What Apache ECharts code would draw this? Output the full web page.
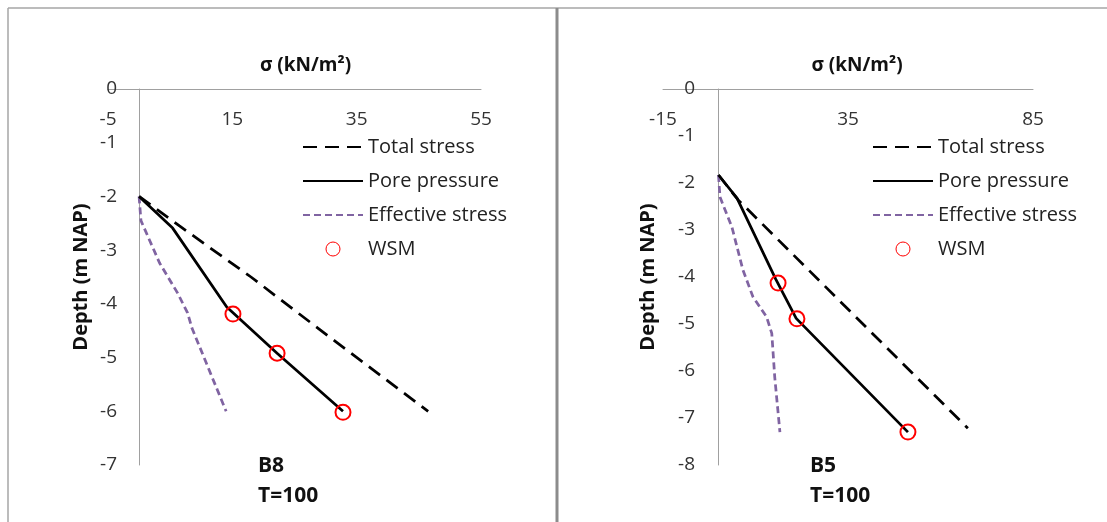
<!DOCTYPE html>
<html>
<head>
<meta charset="utf-8">
<script src="https://cdn.jsdelivr.net/npm/echarts@6/dist/echarts.min.js"></script>
<style>
html,body{margin:0;padding:0;background:#fff;}
#chart{width:1107px;height:522px;}
</style>
</head>
<body>
<div id="chart"></div>
<script>
// ---------- data ----------
const SERIES_NAMES = ['Total stress', 'Pore pressure', 'Effective stress', 'WSM'];
const X_TITLE = 'σ (kN/m²)';
const Y_TITLE = 'Depth (m NAP)';
const PANEL_LABELS = [['B8', 'T=100'], ['B5', 'T=100']];

// B8 panel
const B8_TOTAL_SIGMA = [0, 6.5, 18, 31, 46.5];
const B8_TOTAL_DEPTH = [-2, -2.55, -3.5, -4.65, -6];
const B8_PORE_SIGMA = [0, 5.4, 14.1, 22.2, 32.8];
const B8_PORE_DEPTH = [-2, -2.59, -4.06, -4.92, -6.0];
const B8_EFF_SIGMA = [0, 0.3, 3.3, 6.2, 7.8, 8.5, 14];
const B8_EFF_DEPTH = [-2, -2.45, -3.24, -3.8, -4.17, -4.45, -6];
const B8_WSM_SIGMA = [15.1, 22.2, 32.8];
const B8_WSM_DEPTH = [-4.19, -4.92, -6.02];

// B5 panel
const B5_TOTAL_SIGMA = [0, 5.3, 67.4];
const B5_TOTAL_DEPTH = [-1.83, -2.36, -7.22];
const B5_PORE_SIGMA = [0, 5, 15.5, 21, 51.2];
const B5_PORE_DEPTH = [-1.83, -2.32, -4.05, -4.88, -7.3];
const B5_EFF_SIGMA = [0, 0.4, 3.6, 6.6, 9.3, 13, 14.4, 15.2, 16.6];
const B5_EFF_DEPTH = [-1.83, -2.3, -2.93, -3.85, -4.42, -4.85, -5.2, -6.13, -7.3];
const B5_WSM_SIGMA = [16.1, 21.2, 51.2];
const B5_WSM_DEPTH = [-4.13, -4.89, -7.3];

// axis settings
const X_MIN = [-5, -15];
const X_MAX = [55, 85];
const X_INTERVAL = [20, 50];
const Y_MIN = [-7, -8];
const Y_MAX = [0, 0];

// ---------- build ----------
const zip = (a, b) => a.map((v, i) => [v, b[i]]);
const FONT = 'Open Sans';
const panels = [
  { total: zip(B8_TOTAL_SIGMA, B8_TOTAL_DEPTH), pore: zip(B8_PORE_SIGMA, B8_PORE_DEPTH),
    eff: zip(B8_EFF_SIGMA, B8_EFF_DEPTH), wsm: zip(B8_WSM_SIGMA, B8_WSM_DEPTH) },
  { total: zip(B5_TOTAL_SIGMA, B5_TOTAL_DEPTH), pore: zip(B5_PORE_SIGMA, B5_PORE_DEPTH),
    eff: zip(B5_EFF_SIGMA, B5_EFF_DEPTH), wsm: zip(B5_WSM_SIGMA, B5_WSM_DEPTH) }
];

const grids = [
  { left: 108, top: 89, width: 373, height: 376, outerBoundsMode: 'none' },
  { left: 663, top: 89, width: 370, height: 376, outerBoundsMode: 'none' }
];
const axisColor = '#a0a0a0';
const labelColor = '#333333';

const xAxes = [0, 1].map(i => ({
  type: 'value', gridIndex: i, position: 'top',
  min: X_MIN[i], max: X_MAX[i], interval: X_INTERVAL[i],
  axisLine: { show: true, onZero: false, lineStyle: { color: axisColor, width: 1 } },
  axisTick: { show: false },
  splitLine: { show: false },
  axisLabel: { inside: true, margin: 21, fontSize: 19, color: labelColor, fontFamily: FONT },
  name: X_TITLE, nameLocation: 'middle', nameGap: 14,
  nameTextStyle: { fontSize: 19, fontWeight: 'bold', color: '#111', fontFamily: FONT,
    padding: [0, 0, 0, i === 0 ? 22 : 18] }
}));

const yAxes = [0, 1].map(i => ({
  type: 'value', gridIndex: i,
  min: Y_MIN[i], max: Y_MAX[i], interval: 1,
  axisLine: { show: true, onZero: true, lineStyle: { color: axisColor, width: 1 } },
  axisTick: { show: false },
  splitLine: { show: false },
  axisLabel: { margin: i === 0 ? -9 : -32, fontSize: 19, color: labelColor, fontFamily: FONT },
  name: Y_TITLE, nameLocation: 'middle', nameRotate: 90, nameGap: i === 0 ? 17 : 5,
  nameMoveOverlap: false,
  nameTextStyle: { fontSize: 20, fontWeight: 'bold', color: '#111', fontFamily: FONT }
}));

const series = [];
panels.forEach((p, i) => {
  series.push({
    name: SERIES_NAMES[0], type: 'line', xAxisIndex: i, yAxisIndex: i, data: p.total,
    symbol: 'none', itemStyle: { color: '#000' },
    lineStyle: { color: '#000', width: 2.75, type: [14, 8] }, z: 2
  });
  series.push({
    name: SERIES_NAMES[1], type: 'line', xAxisIndex: i, yAxisIndex: i, data: p.pore,
    symbol: 'none', itemStyle: { color: '#000' },
    lineStyle: { color: '#000', width: 2.75, type: 'solid' }, z: 3
  });
  series.push({
    name: SERIES_NAMES[2], type: 'line', xAxisIndex: i, yAxisIndex: i, data: p.eff,
    symbol: 'none', itemStyle: { color: '#8064A2' },
    lineStyle: { color: '#8064A2', width: 2.75, type: [7, 4] }, z: 2
  });
  series.push({
    name: SERIES_NAMES[3], type: 'scatter', xAxisIndex: i, yAxisIndex: i, data: p.wsm,
    symbol: 'circle', symbolSize: 15,
    itemStyle: { color: 'rgba(0,0,0,0)', borderColor: '#ff0000', borderWidth: 2, opacity: 1 }, z: 4
  });
});

const legendData = SERIES_NAMES.map(n => n === 'WSM'
  ? { name: n, itemStyle: { borderWidth: 1, borderColor: '#ff0000', color: 'rgba(0,0,0,0)' } }
  : { name: n, itemStyle: { opacity: 0 } });
const legends = [302, 872].map(left => ({
  orient: 'vertical', left: left, top: 136, padding: 0,
  itemWidth: 60, itemHeight: 14, itemGap: 12,
  selectedMode: false,
  data: legendData,
  textStyle: { fontSize: 20, color: '#222', fontFamily: FONT, lineHeight: 22 }
}));

const textEl = (x, y, t) => ({
  type: 'text', left: x, top: y,
  style: { text: t, fontSize: 21, fontWeight: 'bold', fill: '#111', fontFamily: FONT }
});
const graphic = [
  { type: 'line', shape: { x1: 8, y1: 8, x2: 1107, y2: 8 }, style: { stroke: '#a6a6a6', lineWidth: 1.5 } },
  { type: 'line', shape: { x1: 8, y1: 8, x2: 8, y2: 522 }, style: { stroke: '#a6a6a6', lineWidth: 1.5 } },
  { type: 'line', shape: { x1: 557, y1: 8, x2: 557, y2: 522 }, style: { stroke: '#8c8c8c', lineWidth: 3 } },
  textEl(258, 456, PANEL_LABELS[0][0]),
  textEl(258, 486, PANEL_LABELS[0][1]),
  textEl(810, 456, PANEL_LABELS[1][0]),
  textEl(810, 486, PANEL_LABELS[1][1])
];

const chart = echarts.init(document.getElementById('chart'), null, { renderer: 'canvas' });
chart.setOption({
  animation: false,
  backgroundColor: '#ffffff',
  grid: grids,
  xAxis: xAxes,
  yAxis: yAxes,
  legend: legends,
  series: series,
  graphic: graphic
});
</script>
</body>
</html>
